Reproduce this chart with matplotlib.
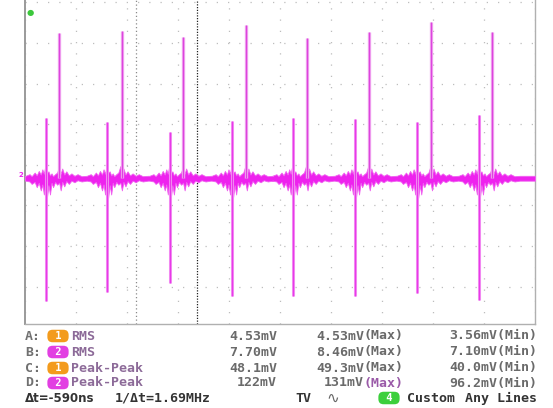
import matplotlib.pyplot as plt

# Scope trace, in screen divisions (10 across, 8 high, centre line = 0)
baseline = -0.33
small_x = [0.41, 1.61, 2.84, 4.06, 5.25, 6.47, 7.69, 8.90]
small_top = [1.15, 1.05, 0.81, 1.08, 1.15, 1.13, 1.05, 1.23]
neg_bottom = [-3.35, -3.13, -2.91, -3.23, -3.23, -3.23, -3.16, -3.33]
big_x = [0.67, 1.90, 3.10, 4.33, 5.53, 6.75, 7.96, 9.16]
big_top = [3.25, 3.30, 3.15, 3.44, 3.12, 3.27, 3.52, 3.27]

# noise band around each switching event (offset from event, extent above/below baseline)
burst_dx = [-0.40, -0.32, -0.28, -0.22, -0.18, -0.14, -0.10, -0.07, -0.04, -0.02, 0.02, 0.05,
            0.08, 0.11, 0.14, 0.18, 0.22, 0.26, 0.29, 0.32, 0.36, 0.40, 0.45, 0.50, 0.56, 0.62,
            0.70, 0.80]
burst_up = [0.06, 0.10, 0.05, 0.14, 0.07, 0.18, 0.09, 0.22, 0.11, 0.25, 0.13, 0.17, 0.07, 0.12,
            0.05, 0.10, 0.14, 0.30, 0.11, 0.24, 0.09, 0.17, 0.07, 0.12, 0.06, 0.10, 0.05, 0.06]
burst_dn = [0.06, 0.08, 0.14, 0.09, 0.22, 0.11, 0.30, 0.15, 0.40, 0.19, 0.48, 0.17, 0.40, 0.11,
            0.22, 0.09, 0.16, 0.11, 0.30, 0.09, 0.20, 0.07, 0.14, 0.06, 0.10, 0.05, 0.08, 0.06]
rest_half = 0.06

cursor_a = 2.18
cursor_b = 3.37

# measurement table
row_keys = ["A:", "B:", "C:", "D:"]
row_channels = ["1", "2", "1", "2"]
row_measures = ["RMS", "RMS", "Peak-Peak", "Peak-Peak"]
row_values = ["4.53mV", "7.70mV", "48.1mV", "122mV"]
row_max = ["4.53mV", "8.46mV", "49.3mV", "131mV"]
row_min = ["3.56mV", "7.10mV", "40.0mV", "96.2mV"]
ch_colors = {"1": "#f39b1d", "2": "#e23fe2", "4": "#3ccf3c"}

W, H = 553, 408
MAG = "#ee22ee"

fig = plt.figure(figsize=(W / 100, H / 100), dpi=100)
fig.patch.set_facecolor("white")


def px(x, y):
    return x / W, 1 - y / H


ax = fig.add_axes([25 / W, (H - 324) / H, 510 / W, 324 / H])
ax.set_xlim(0, 10)
ax.set_ylim(-3.92, 4.06)
ax.set_xticks(range(11))
ax.set_yticks(range(-3, 5))
ax.tick_params(length=0, labelbottom=False, labelleft=False)
ax.grid(True, color="#bdbdbd", linestyle=(0, (1, 8)), linewidth=0.9)
ax.set_axisbelow(True)
ax.spines["top"].set_visible(False)
ax.spines["left"].set_color("#9a9a9a")
ax.spines["left"].set_linewidth(1.4)
for s in ("right", "bottom"):
    ax.spines[s].set_color("#b0b0b0")
    ax.spines[s].set_linewidth(1.0)

# cursors
ax.axvline(cursor_a, color="#8a8a8a", linestyle=(0, (1, 2)), linewidth=0.9)
ax.axvline(cursor_b, color="#222222", linestyle=(0, (1, 1.2)), linewidth=0.9)

# noise band
xs = [0.0]
ups = [baseline + rest_half]
dns = [baseline - rest_half]
for x0 in small_x:
    for dx, u, d in zip(burst_dx, burst_up, burst_dn):
        xs.append(x0 + dx)
        ups.append(baseline + u)
        dns.append(baseline - d)
xs.append(10.0)
ups.append(baseline + rest_half)
dns.append(baseline - rest_half)
ax.fill_between(xs, dns, ups, color=MAG, linewidth=0.6, edgecolor="#f060f0", zorder=3)

# spikes
ax.vlines(small_x, neg_bottom, small_top, color="#f49cf4", linewidth=2.2, zorder=3)
ax.vlines(small_x, neg_bottom, small_top, color="#e83ae8", linewidth=1.0, zorder=4)
ax.vlines(big_x, baseline, big_top, color="#f2b0f2", linewidth=2.4, zorder=3)
ax.vlines(big_x, baseline, big_top, color="#dd44dd", linewidth=1.0, zorder=4)

# markers on the screen edge
fig.text(*px(30, 12), "\u25cf", color="#3cc83c", fontsize=6, ha="center", va="center")
fig.text(*px(21, 175), "2", color=MAG, fontsize=5, ha="center", va="center", weight="bold")

# measurement panel
mono = "DejaVu Sans Mono"
row_y = [336, 352, 368, 383]
for key, ch, meas, val, vmax, vmin, y in zip(row_keys, row_channels, row_measures,
                                              row_values, row_max, row_min, row_y):
    fig.text(*px(25, y), key, family=mono, fontsize=9.5, color="#707070", va="center", weight="bold")
    fig.text(*px(58, y), " " + ch + " ", family=mono, fontsize=7.5, color="white", weight="bold",
             ha="center", va="center",
             bbox=dict(boxstyle="round,pad=0.12,rounding_size=0.5", fc=ch_colors[ch], ec="none"))
    fig.text(*px(71, y), meas, family=mono, fontsize=9.5, color="#8c6a98", va="center", weight="bold")
    fig.text(*px(277, y), val, family=mono, fontsize=9.5, color="#6a6a6a", va="center", ha="right", weight="bold")
    max_col = "#9a5aa8" if key == "D:" else "#6a6a6a"
    fig.text(*px(403 - 5 * 7.8, y), vmax, family=mono, fontsize=9.5, color="#6a6a6a", va="center", ha="right", weight="bold")
    fig.text(*px(403, y), "(Max)", family=mono, fontsize=9.5, color=max_col, va="center", ha="right", weight="bold")
    fig.text(*px(537, y), vmin + "(Min)", family=mono, fontsize=9.5, color="#6a6a6a", va="center", ha="right", weight="bold")

yb = 398
fig.text(*px(25, yb), "\u0394t=-590ns", fontsize=8.5, color="#333333", va="center", weight="bold")
fig.text(*px(115, yb), "1/\u0394t=1.69MHz", family=mono, fontsize=9.5, color="#333333", va="center", weight="bold")
fig.text(*px(295, yb), "TV", family=mono, fontsize=9.5, color="#333333", va="center", weight="bold")
fig.text(*px(333, yb), "\u223f", fontsize=11, color="#666666", va="center", ha="center")
fig.text(*px(389, yb), " 4 ", family=mono, fontsize=7.5, color="white", weight="bold", ha="center", va="center",
         bbox=dict(boxstyle="round,pad=0.12,rounding_size=0.5", fc=ch_colors["4"], ec="none"))
fig.text(*px(407, yb), "Custom", family=mono, fontsize=9.5, color="#333333", va="center", weight="bold")
fig.text(*px(537, yb), "Any Lines", family=mono, fontsize=9.5, color="#333333", va="center", ha="right", weight="bold")

fig.savefig("out.png", dpi=100)
